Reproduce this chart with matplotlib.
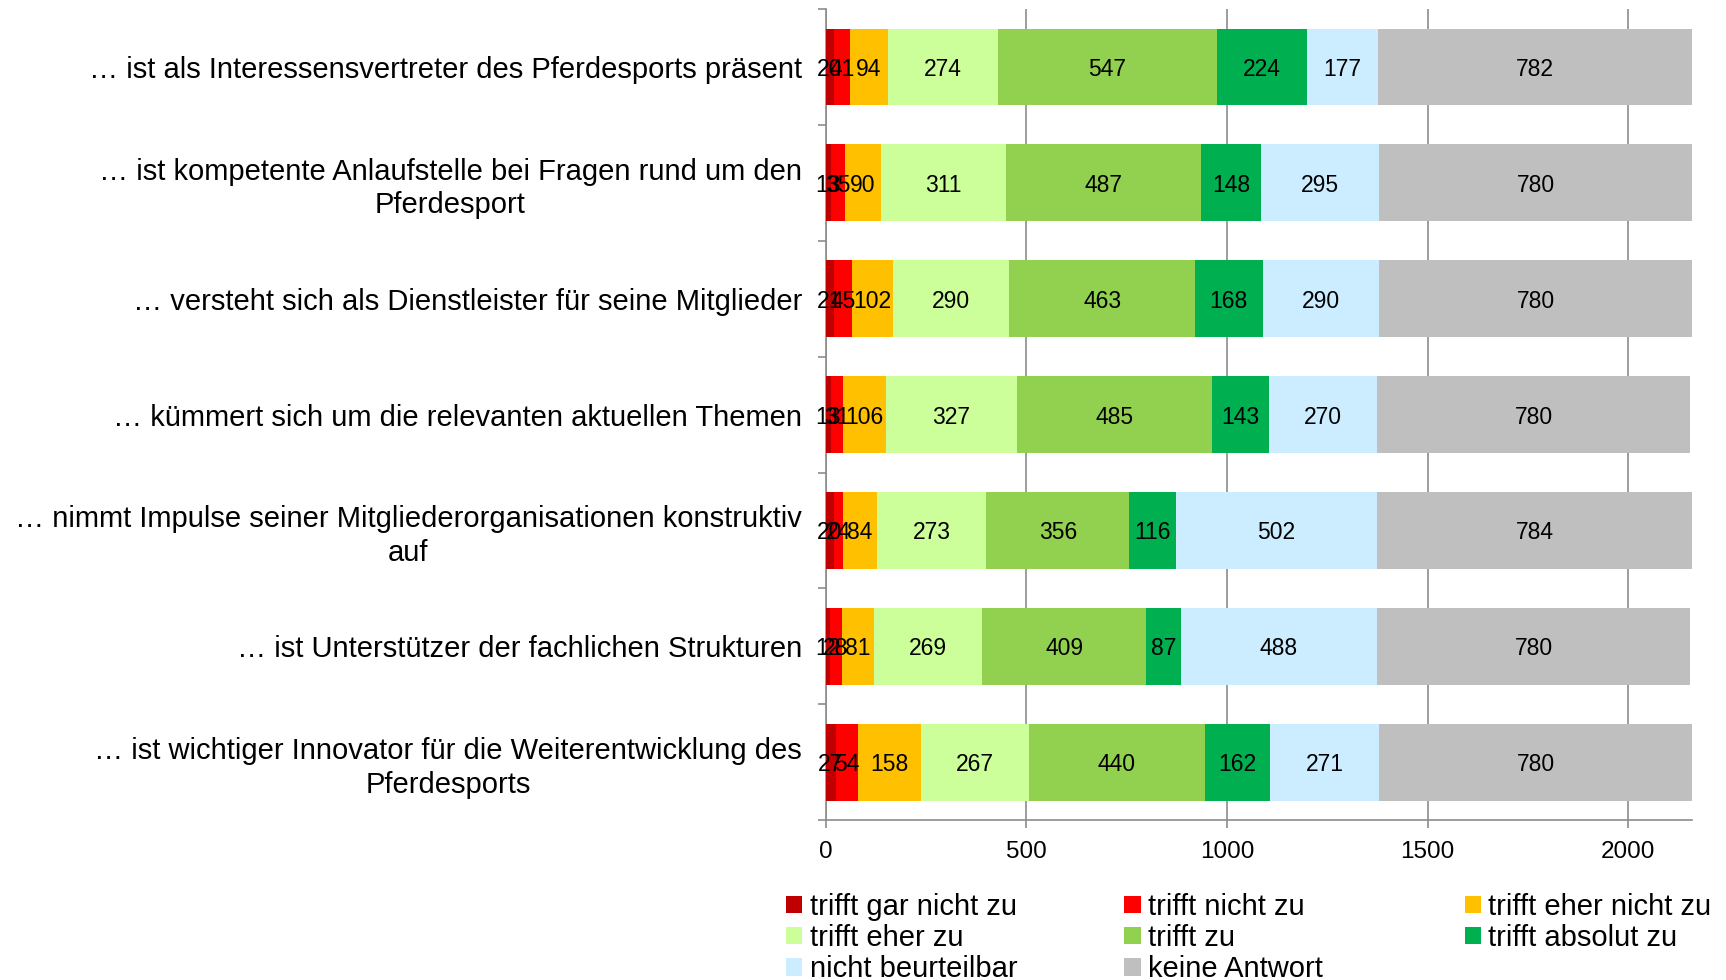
import matplotlib
matplotlib.use("Agg")
import matplotlib.pyplot as plt
import numpy as np

plt.rcParams['font.family'] = ['Liberation Sans', 'DejaVu Sans']

categories = [
    "… ist als Interessensvertreter des Pferdesports präsent",
    "… ist kompetente Anlaufstelle bei Fragen rund um den\nPferdesport",
    "… versteht sich als Dienstleister für seine Mitglieder",
    "… kümmert sich um die relevanten aktuellen Themen",
    "… nimmt Impulse seiner Mitgliederorganisationen konstruktiv\nauf",
    "… ist Unterstützer der fachlichen Strukturen",
    "… ist wichtiger Innovator für die Weiterentwicklung des\nPferdesports",
]
series_names = ["trifft gar nicht zu", "trifft nicht zu", "trifft eher nicht zu",
                "trifft eher zu", "trifft zu", "trifft absolut zu",
                "nicht beurteilbar", "keine Antwort"]
trifft_gar_nicht_zu = [20, 13, 21, 13, 20, 12, 27]
trifft_nicht_zu = [41, 35, 45, 31, 24, 28, 54]
trifft_eher_nicht_zu = [94, 90, 102, 106, 84, 81, 158]
trifft_eher_zu = [274, 311, 290, 327, 273, 269, 267]
trifft_zu = [547, 487, 463, 485, 356, 409, 440]
trifft_absolut_zu = [224, 148, 168, 143, 116, 87, 162]
nicht_beurteilbar = [177, 295, 290, 270, 502, 488, 271]
keine_antwort = [782, 780, 780, 780, 784, 780, 780]
series = [trifft_gar_nicht_zu, trifft_nicht_zu, trifft_eher_nicht_zu, trifft_eher_zu,
          trifft_zu, trifft_absolut_zu, nicht_beurteilbar, keine_antwort]
colors = ["#C00000", "#FF0000", "#FFC000", "#CCFF99", "#92D050", "#00B050",
          "#CCECFF", "#BFBFBF"]
xticks = [0, 500, 1000, 1500, 2000]

fig = plt.figure(figsize=(17.26, 9.8), dpi=100)
ax = fig.add_axes([0.4783, 0.163, 0.5020, 0.828])

y = np.arange(len(categories))
left = np.zeros(len(categories))
fs_lab = 16.5
fs_cat = 21
handles = []
for name, vals, col in zip(series_names, series, colors):
    vals = np.array(vals, dtype=float)
    bars = ax.barh(y, vals, left=left, height=0.66, color=col, label=name,
                   edgecolor='none', zorder=3)
    handles.append(bars)
    anns = ax.bar_label(bars, labels=[str(int(v)) for v in vals], label_type='center',
                        fontsize=fs_lab, color='black', zorder=4)
    for a in anns:
        a.set_va('center_baseline')
    left += vals

ax.set_xlim(0, 2159)
ax.set_ylim(len(categories) - 0.5, -0.5)
ax.set_xticks(xticks)
ax.set_xticklabels([str(t) for t in xticks], fontsize=17.5)
ax.xaxis.grid(True, color='#8C8C8C', linewidth=1.2, zorder=0)
ax.set_axisbelow(True)

ax.set_yticks(np.arange(-0.5, len(categories) + 0.5, 1.0))
ax.set_yticklabels([])
ax.set_yticks(y, minor=True)
ax.set_yticklabels(categories, minor=True, fontsize=fs_cat, multialignment='center',
                   linespacing=1.25)
ax.tick_params(axis='y', which='minor', length=0, pad=17)
ax.tick_params(axis='y', which='major', length=6, color='#8C8C8C', width=1.2)
ax.tick_params(axis='x', length=6, color='#8C8C8C', width=1.2, pad=9)

for s in ['top', 'right']:
    ax.spines[s].set_visible(False)
for s in ['left', 'bottom']:
    ax.spines[s].set_color('#8C8C8C')
    ax.spines[s].set_linewidth(1.2)

# legend laid out row by row in three fixed-width columns
col_x = [0.4555, 0.6515, 0.8485]
for c in range(3):
    idx = list(range(c, len(series_names), 3))
    fig.legend([handles[i] for i in idx], [series_names[i] for i in idx],
               loc='upper left', bbox_to_anchor=(col_x[c], 0.089), ncol=1,
               frameon=False, fontsize=fs_cat, handlelength=0.55, handleheight=0.55,
               handletextpad=0.25, labelspacing=0.11, borderpad=0, borderaxespad=0)

fig.savefig("out.png", dpi=100)
